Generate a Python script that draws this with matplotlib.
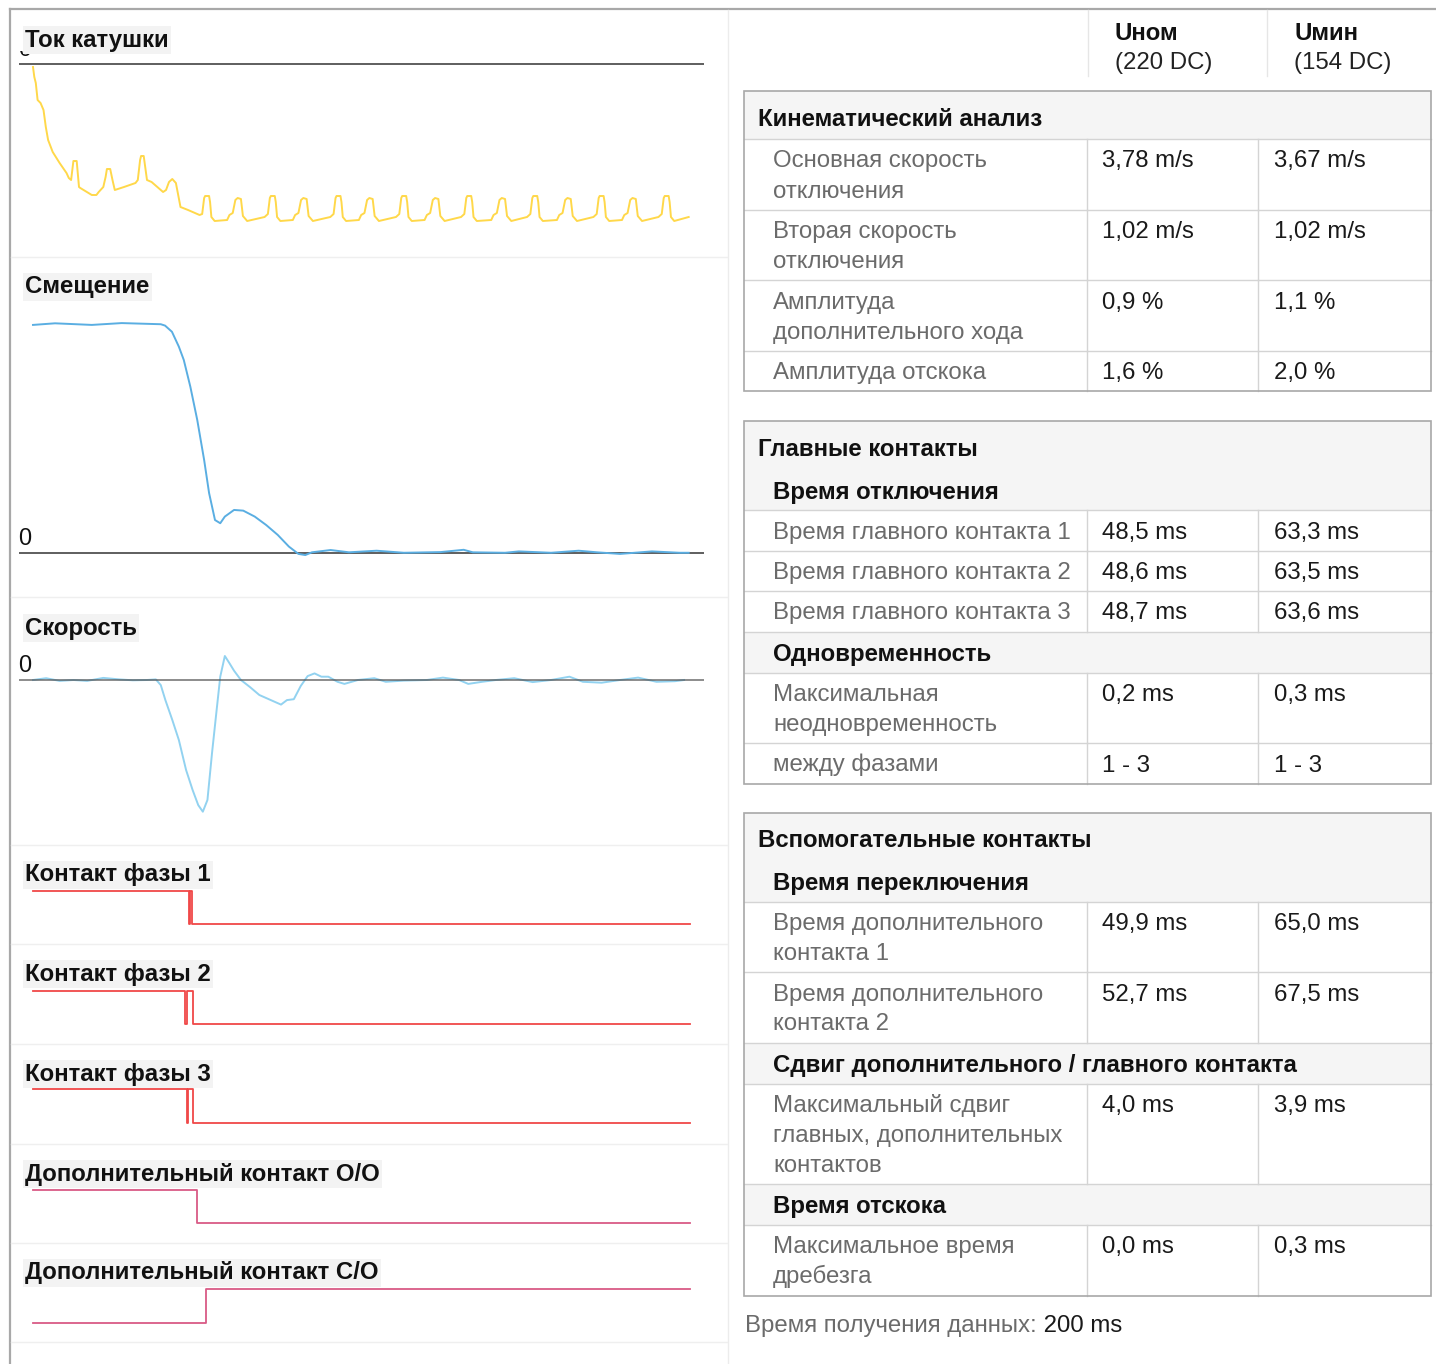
import matplotlib.pyplot as plt
from matplotlib.patches import Rectangle
from matplotlib.transforms import Bbox

plt.rcParams["font.family"] = ["Liberation Sans", "DejaVu Sans"]

W, H = 1436, 1364

# ---------------- data ----------------
# coil current (t in ms, arbitrary units, plotted below zero)
coil_points = [
    (0.0, -0.03), (0.4, -0.13), (0.85, -0.19), (1.4, -0.36), (2.3, -0.39), (3.2, -0.46),
    (3.9, -0.63), (4.6, -0.76), (6.0, -0.88), (8.1, -0.99), (10.2, -1.09), (10.9, -1.14),
    (11.6, -1.16), (12.3, -0.97), (13.3, -0.97), (14.0, -1.23), (14.4, -1.24), (17.9, -1.31),
    (19.3, -1.31), (20.0, -1.28), (21.4, -1.23), (22.1, -1.13), (22.5, -1.05), (23.5, -1.05),
    (24.2, -1.16), (24.9, -1.26), (27.7, -1.23), (31.2, -1.19), (31.9, -1.16), (32.6, -0.96),
    (32.9, -0.92), (33.7, -0.92), (34.4, -1.09), (34.7, -1.16), (36.1, -1.18), (39.6, -1.28),
    (40.5, -1.26), (41.4, -1.18), (42.4, -1.15), (43.5, -1.19), (44.9, -1.43), (47.2, -1.46),
    (50.7, -1.51),
    (51.5, -1.50), (52.1, -1.34), (52.4, -1.32), (53.6, -1.32), (53.9, -1.38), (54.3, -1.53), (55.3, -1.57),
    (59.1, -1.56), (59.8, -1.51), (60.8, -1.49), (61.6, -1.36), (62.3, -1.34), (63.3, -1.35), (63.9, -1.52), (65.2, -1.57),
    (70.5, -1.53), (71.5, -1.50), (72.1, -1.34), (72.4, -1.32), (73.6, -1.32), (73.9, -1.38), (74.3, -1.53), (75.3, -1.57),
    (79.1, -1.56), (79.8, -1.51), (80.8, -1.49), (81.6, -1.36), (82.3, -1.34), (83.3, -1.35), (83.9, -1.52), (85.2, -1.57),
    (90.5, -1.53), (91.5, -1.50), (92.1, -1.34), (92.4, -1.32), (93.6, -1.32), (93.9, -1.38), (94.3, -1.53), (95.3, -1.57),
    (99.2, -1.56), (99.9, -1.51), (100.9, -1.49), (101.7, -1.36), (102.4, -1.34), (103.4, -1.35), (104.0, -1.52), (105.3, -1.57),
    (110.5, -1.53), (111.5, -1.50), (112.1, -1.34), (112.4, -1.32), (113.6, -1.32), (113.9, -1.38), (114.3, -1.53), (115.3, -1.57),
    (119.2, -1.56), (119.9, -1.51), (120.9, -1.49), (121.7, -1.36), (122.4, -1.34), (123.4, -1.35), (124.0, -1.52), (125.3, -1.57),
    (130.3, -1.53), (131.3, -1.50), (131.9, -1.34), (132.2, -1.32), (133.4, -1.32), (133.7, -1.38), (134.1, -1.53), (135.1, -1.57),
    (139.5, -1.56), (140.2, -1.51), (141.2, -1.49), (142.0, -1.36), (142.7, -1.34), (143.7, -1.35), (144.3, -1.52), (145.6, -1.57),
    (150.4, -1.53), (151.4, -1.50), (152.0, -1.34), (152.3, -1.32), (153.5, -1.32), (153.8, -1.38), (154.2, -1.53), (155.2, -1.57),
    (159.5, -1.56), (160.2, -1.51), (161.2, -1.49), (162.0, -1.36), (162.7, -1.34), (163.7, -1.35), (164.3, -1.52), (165.6, -1.57),
    (170.6, -1.53), (171.6, -1.50), (172.2, -1.34), (172.5, -1.32), (173.7, -1.32), (174.0, -1.38), (174.4, -1.53), (175.4, -1.57),
    (179.3, -1.56), (180.0, -1.51), (181.0, -1.49), (181.8, -1.36), (182.5, -1.34), (183.5, -1.35), (184.1, -1.52), (185.4, -1.57),
    (190.4, -1.53), (191.4, -1.50), (192.0, -1.34), (192.3, -1.32), (193.5, -1.32), (193.8, -1.38), (194.2, -1.53), (195.2, -1.57),
    (199.6, -1.53),
]

# displacement, % of stroke
disp_points = [
    (0.0, 99.6), (6.7, 100.3), (17.9, 99.6), (27.0, 100.4), (38.9, 99.9), (40.2, 99.3),
    (42.3, 96.6), (44.4, 90.1), (45.9, 84.3), (47.9, 72.6), (50.0, 58.1), (52.1, 40.6),
    (53.6, 26.2), (55.4, 14.4), (57.0, 13.0), (58.4, 15.9), (61.2, 18.8), (64.0, 18.5),
    (67.5, 15.9), (71.0, 12.2), (74.5, 7.9), (77.9, 2.8), (80.8, -0.4), (82.9, -0.9),
    (84.9, 0.3), (90.6, 1.3), (96.2, 0.3), (104.6, 1.0), (112.9, 0.1), (124.1, 0.4),
    (131.1, 1.4), (133.9, 0.3), (143.7, 0.1), (147.9, 0.7), (157.7, 0.1), (166.1, 1.0),
    (171.7, 0.3), (178.7, -0.4), (188.4, 0.7), (196.8, 0.1), (199.6, 0.1),
]

# speed, m/s
speed_points = [
    (0.0, 0.0), (4.0, 0.06), (8.1, -0.03), (12.3, 0.0), (16.5, -0.03), (21.4, 0.07),
    (26.3, 0.02), (30.4, -0.01), (34.7, 0.0), (37.4, 0.02), (38.9, -0.17), (40.3, -0.67),
    (42.4, -1.33), (44.4, -2.0), (46.6, -3.0), (48.6, -3.67), (50.3, -4.17), (51.7, -4.39),
    (53.1, -4.0), (54.5, -2.43), (55.9, -1.0), (57.0, 0.11), (58.4, 0.8), (59.8, 0.56),
    (61.2, 0.31), (63.3, 0.0), (66.1, -0.24), (68.9, -0.5), (72.4, -0.67), (75.5, -0.82),
    (77.3, -0.67), (79.4, -0.64), (81.5, -0.2), (83.6, 0.13), (85.7, 0.22), (87.8, 0.11),
    (89.9, 0.11), (92.7, -0.06), (94.8, -0.13), (98.9, 0.0), (103.9, 0.06), (107.4, -0.06),
    (112.9, -0.02), (119.9, 0.0), (124.8, 0.08), (129.7, 0.0), (132.5, -0.13), (136.7, -0.06),
    (140.9, 0.0), (146.5, 0.06), (152.1, -0.07), (157.7, 0.0), (163.3, 0.11), (167.4, -0.06),
    (173.1, -0.09), (178.7, 0.0), (184.2, 0.08), (189.8, -0.06), (195.4, -0.04), (198.2, 0.0),
]

contact_names = ["Контакт фазы 1", "Контакт фазы 2", "Контакт фазы 3",
                 "Дополнительный контакт О/О", "Дополнительный контакт С/О"]
contact_t = [
    [0, 47.5, 47.5, 47.8, 47.8, 48.5, 48.5, 200],
    [0, 46.4, 46.4, 47.0, 47.0, 48.6, 48.6, 200],
    [0, 46.8, 46.8, 47.2, 47.2, 48.7, 48.7, 200],
    [0, 49.9, 49.9, 200],
    [0, 52.7, 52.7, 200],
]
contact_v = [
    [1, 1, 0, 0, 1, 1, 0, 0],
    [1, 1, 0, 0, 1, 1, 0, 0],
    [1, 1, 0, 0, 1, 1, 0, 0],
    [1, 1, 0, 0],
    [0, 0, 1, 1],
]

col_heads = ["Uном", "Uмин"]
col_subs = ["(220 DC)", "(154 DC)"]

kin_labels = ["Основная скорость\nотключения", "Вторая скорость\nотключения",
              "Амплитуда\nдополнительного хода", "Амплитуда отскока"]
kin_nom = ["3,78 m/s", "1,02 m/s", "0,9 %", "1,6 %"]
kin_min = ["3,67 m/s", "1,02 m/s", "1,1 %", "2,0 %"]

open_labels = ["Время главного контакта 1", "Время главного контакта 2", "Время главного контакта 3"]
open_nom = ["48,5 ms", "48,6 ms", "48,7 ms"]
open_min = ["63,3 ms", "63,5 ms", "63,6 ms"]

sync_labels = ["Максимальная\nнеодновременность", "между фазами"]
sync_nom = ["0,2 ms", "1 - 3"]
sync_min = ["0,3 ms", "1 - 3"]

aux_labels = ["Время дополнительного\nконтакта 1", "Время дополнительного\nконтакта 2"]
aux_nom = ["49,9 ms", "52,7 ms"]
aux_min = ["65,0 ms", "67,5 ms"]

shift_labels = ["Максимальный сдвиг\nглавных, дополнительных\nконтактов"]
shift_nom = ["4,0 ms"]
shift_min = ["3,9 ms"]

bounce_labels = ["Максимальное время\nдребезга"]
bounce_nom = ["0,0 ms"]
bounce_min = ["0,3 ms"]

acq_label = "Время получения данных:"
acq_value = " 200 ms"

# ---------------- styling ----------------
FS = 17.3
BASE = 8.5          # baseline offset below the cap centre, px
LABEL_C = "#6b6b6b"
VALUE_C = "#1a1a1a"
HEAD_BG = "#f5f5f5"
TITLE_BG = "#f3f3f3"
LINE_C = "#d4d4d4"
BORDER_C = "#a8a8a8"

fig = plt.figure(figsize=(W / 100, H / 100), dpi=100)
bg = fig.add_axes([0, 0, 1, 1])
bg.set_xlim(0, W)
bg.set_ylim(H, 0)
bg.axis("off")

# frame and separators
bg.plot([10, W], [9, 9], color=BORDER_C, lw=1.6)
bg.plot([10, 10], [9, H], color=BORDER_C, lw=1.6)
bg.plot([728, 728], [10, H], color="#ececec", lw=1.0)
for y in [257, 597, 845, 944, 1044, 1144, 1243, 1342]:
    bg.plot([11, 727], [y, y], color="#efefef", lw=1.0)


def panel_title(y_center, text):
    bg.text(25, y_center + BASE, text, fontsize=FS, fontweight="bold", color="#111111",
            va="baseline", ha="left", zorder=5,
            bbox=dict(boxstyle="square,pad=0.1", fc=TITLE_BG, ec="none"))


def zero_label(y_line, clip_top=None):
    t0 = bg.text(18, y_line - 8, "0", fontsize=17, color="#111111", va="baseline", ha="left", zorder=2)
    if clip_top is not None:
        # the chart area hides the upper part of this label (display px, origin bottom-left)
        t0.set_clip_box(Bbox.from_extents(0, H - clip_top - 40, 720, H - clip_top))
        t0.set_clip_on(True)


# time axis: px 19..704 -> t, with t=0 at px 33 and t=200 at px 690
T_LEFT, T_RIGHT = (19 - 33) * 200 / 657, (704 - 33) * 200 / 657


def chart_axes(y_top, y_bot, ylim):
    a = fig.add_axes([19 / W, 1 - y_bot / H, (704 - 19) / W, (y_bot - y_top) / H])
    a.set_xlim(T_LEFT, T_RIGHT)
    a.set_ylim(*ylim)
    a.axis("off")
    a.patch.set_alpha(0)
    return a


# coil current
t, v = zip(*coil_points)
a = chart_axes(55, 245, (-1.81, 0.09))
a.axhline(0, color="#333333", lw=1.1)
a.plot(t, v, color="#ffd84a", lw=1.4)
zero_label(64, clip_top=51)
panel_title(38, "Ток катушки")

# displacement
t, v = zip(*disp_points)
a = chart_axes(300, 580, (-27 / 2.29, 253 / 2.29))
a.axhline(0, color="#333333", lw=1.1)
a.plot(t, v, color="#5aaee2", lw=1.4)
zero_label(553)
panel_title(285, "Смещение")

# speed
t, v = zip(*speed_points)
a = chart_axes(640, 830, (-5.0, 40 / 30))
a.plot(t, v, color="#92d2f0", lw=1.4)
a.axhline(0, color="#555555", lw=1.1, alpha=0.85)
zero_label(680)
panel_title(626, "Скорость")

# contacts
contact_rows = [(873, 890.7, 924.0, "#f04848"), (972, 990.7, 1024.0, "#f04848"),
                (1072, 1089.3, 1123.3, "#f04848"), (1172, 1190.0, 1223.3, "#d95b86"),
                (1271, 1289.3, 1322.7, "#d95b86")]
for (ty, hi, lo, col), name, ct, cv in zip(contact_rows, contact_names, contact_t, contact_v):
    unit = lo - hi
    a = chart_axes(hi - 10, lo + 10, (-10 / unit, 1 + 10 / unit))
    a.plot(ct, cv, color=col, lw=1.3)
    panel_title(ty, name)

# ---------------- right-hand tables ----------------
BX0, BX1 = 744, 1431
C1, C2 = 1087, 1258
HX = [1115, 1294]

for x, head, sub in zip(HX, col_heads, col_subs):
    bg.text(x, 31 + BASE, head, fontsize=FS, fontweight="bold", color="#111111", va="baseline")
    bg.text(x, 61 + BASE, sub, fontsize=FS, color="#222222", va="baseline")
for x in [1088, 1267]:
    bg.plot([x, x], [10, 76], color="#e6e6e6", lw=1.0)


def hline(y):
    bg.plot([BX0, BX1], [y, y], color=LINE_C, lw=1.0, zorder=2)


def draw_table(top, spec):
    y = top
    prev = None
    for kind, item in spec:
        if kind == "title":
            h = 48
            bg.add_patch(Rectangle((BX0, y), BX1 - BX0, h, fc=HEAD_BG, ec="none", zorder=1))
            bg.text(758, y + 26 + BASE, item, fontsize=FS, fontweight="bold", color="#111111", va="baseline")
        elif kind == "sub":
            h = 41
            bg.add_patch(Rectangle((BX0, y), BX1 - BX0, h, fc=HEAD_BG, ec="none", zorder=1))
            if prev == "row":
                hline(y)
            bg.text(773, y + 21 + BASE, item, fontsize=FS, fontweight="bold", color="#111111", va="baseline")
        else:
            label, nom, mn = item
            lines = label.split("\n")
            h = 10.5 + 30 * len(lines)
            hline(y)
            for x in [C1, C2]:
                bg.plot([x, x], [y, y + h], color=LINE_C, lw=1.0, zorder=2)
            for k, line in enumerate(lines):
                bg.text(773, y + 20 + BASE + 30 * k, line, fontsize=FS, color=LABEL_C, va="baseline")
            bg.text(1102, y + 20 + BASE, nom, fontsize=FS, color=VALUE_C, va="baseline")
            bg.text(1274, y + 20 + BASE, mn, fontsize=FS, color=VALUE_C, va="baseline")
        prev = kind
        y += h
    bg.add_patch(Rectangle((BX0, top), BX1 - BX0, y - top, fc="none", ec=BORDER_C, lw=1.2, zorder=3))
    return y


def rows(labels, noms, mins):
    return [("row", r) for r in zip(labels, noms, mins)]


spec1 = [("title", "Кинематический анализ")] + rows(kin_labels, kin_nom, kin_min)
spec2 = ([("title", "Главные контакты"), ("sub", "Время отключения")]
         + rows(open_labels, open_nom, open_min)
         + [("sub", "Одновременность")] + rows(sync_labels, sync_nom, sync_min))
spec3 = ([("title", "Вспомогательные контакты"), ("sub", "Время переключения")]
         + rows(aux_labels, aux_nom, aux_min)
         + [("sub", "Сдвиг дополнительного / главного контакта")]
         + rows(shift_labels, shift_nom, shift_min)
         + [("sub", "Время отскока")] + rows(bounce_labels, bounce_nom, bounce_min))

y_end = draw_table(91, spec1)
y_end = draw_table(y_end + 30, spec2)
y_end = draw_table(y_end + 29, spec3)

foot = bg.text(745, y_end + 28 + BASE, acq_label, fontsize=FS, color=LABEL_C, va="baseline")
bg.annotate(acq_value, xy=(1, 0), xycoords=foot, fontsize=FS, color=VALUE_C, va="bottom", ha="left")

fig.savefig("out.png", dpi=100)
